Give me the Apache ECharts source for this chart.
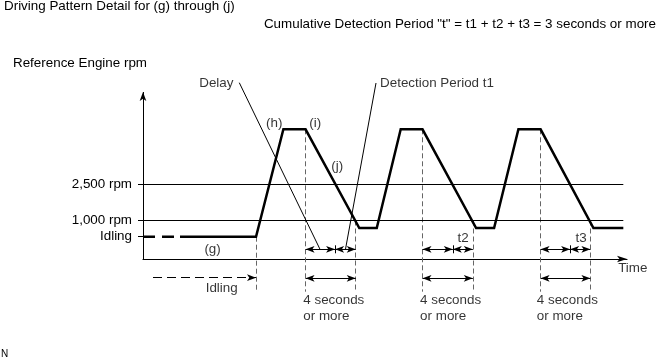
<!DOCTYPE html>
<html>
<head>
<meta charset="utf-8">
<script src="https://cdn.jsdelivr.net/npm/echarts@6/dist/echarts.min.js"></script>
<style>
html,body{margin:0;padding:0;background:#fff;}
#c{width:660px;height:360px;}
</style>
</head>
<body>
<div id="c"></div>
<script>
// ---- data (time in seconds, level in schematic rpm units) ----
const traceTime  = [2.92, 8.92, 11.08, 12.83, 17.07, 18.45, 20.34, 22.06, 26.29, 27.71, 29.63, 31.38, 35.55, 37.91];
const traceLevel = [22.3, 22.3, 129.7, 129.7, 31, 31, 129.7, 129.7, 31, 31, 129.7, 129.7, 31, 31];
const idleLeadTime  = [0, 2.92];
const idleLeadLevel = [22.3, 22.3];

const yTickLevels = [22.3, 38.5, 74.7];
const yTickLabels = ['Idling', '1,000 rpm', '2,500 rpm'];
const refLineLevels = [38.5, 74.7];
const refLineEnd = 37.91;

const idleEndTime = 8.92;
const idleLevel = 22.3;
const peakLevel = 129.7;
const crossLevel = 38.5;
const guideBottom = -32.7;

const windowStart = [12.83, 22.06, 31.38];
const windowSplit = [15.16, 24.45, 33.71];
const windowEnd   = [16.79, 26.03, 35.31];
const shortArrowLevel = 9.7;
const longArrowLevel = -19.3;

const idlingArrowTime  = [0.79, 8.92];
const idlingArrowLevel = -18.7;

const delayLeaderTime  = [7.6, 13.97];
const delayLeaderLevel = [176.3, 9.7];
const detectLeaderTime  = [15.98, 18.39];
const detectLeaderLevel = [9.7, 176];

const noteText  = ['Delay', 'Detection Period t1', '(h)', '(i)', '(j)', '(g)', 't2', 't3', 'Idling',
                   '4 seconds\nor more', '4 seconds\nor more', '4 seconds\nor more', 'Time'];
const noteTime  = [7.14, 18.71, 10.36, 13.6, 15.33, 5.49, 25.26, 34.58, 6.21, 12.65, 21.87, 31.08, 37.5];
const noteLevel = [176, 176, 135.7, 135.7, 93, 9.7, 20.7, 20.7, -29.3, -49, -49, -49, -9];
const noteAlign = ['right', 'left', 'center', 'center', 'center', 'center', 'center', 'center', 'center',
                   'left', 'left', 'left', 'left'];

const axisTop = 167;   // y-axis arrow end
const axisEndTime = 38.2;

// ---- build ----
const FONT = "'Liberation Sans', Arial, Helvetica, sans-serif";
const FS = 13.4;
const chart = echarts.init(document.getElementById('c'), null, {renderer: 'canvas'});

const AR = [5, 9];
function seg(x1, y1, x2, y2, s1, s2) {
  return [
    {coord: [x1, y1], symbol: s1 || 'none', symbolSize: AR},
    {coord: [x2, y2], symbol: s2 || 'none', symbolSize: AR}
  ];
}

const refSegs = refLineLevels.map(v => seg(0, v, refLineEnd, v));
refSegs.push(seg(0, 0, 0, axisTop, 'none', 'arrow'));
refSegs.push(seg(delayLeaderTime[0], delayLeaderLevel[0], delayLeaderTime[1], delayLeaderLevel[1]));
refSegs.push(seg(detectLeaderTime[0], detectLeaderLevel[0], detectLeaderTime[1], detectLeaderLevel[1]));
windowSplit.forEach(t => refSegs.push(seg(t, shortArrowLevel - 4, t, shortArrowLevel + 4)));

const guideSegs = [seg(idleEndTime, idleLevel, idleEndTime, guideBottom)];
windowStart.forEach(t => guideSegs.push(seg(t, peakLevel, t, guideBottom)));
windowEnd.forEach(t => guideSegs.push(seg(t, crossLevel, t, guideBottom)));

const arrowSegs = [];
windowStart.forEach((t, i) => {
  arrowSegs.push(seg(t, shortArrowLevel, windowSplit[i], shortArrowLevel, 'arrow', 'arrow'));
  arrowSegs.push(seg(windowSplit[i], shortArrowLevel, windowEnd[i], shortArrowLevel, 'arrow', 'arrow'));
  arrowSegs.push(seg(t, longArrowLevel, windowEnd[i], longArrowLevel, 'arrow', 'arrow'));
});

const idlingSegs = [seg(idlingArrowTime[0], idlingArrowLevel, idlingArrowTime[1], idlingArrowLevel, 'none', 'arrow')];

function mlSeries(name, data, lineStyle) {
  return {
    name, type: 'line', data: [], clip: false, silent: true,
    markLine: {
      silent: true, animation: false, symbol: ['none', 'none'],
      label: {show: false}, emphasis: {disabled: true},
      lineStyle: Object.assign({color: '#000', width: 1, type: 'solid'}, lineStyle),
      data
    }
  };
}

const textStyle = {fontFamily: FONT, fontSize: FS, color: '#000', fontWeight: 'normal'};

chart.setOption({
  animation: false,
  backgroundColor: '#fff',
  textStyle: {fontFamily: FONT},
  title: [
    {text: 'Driving Pattern Detail for (g) through (j)', left: 4, top: 0, padding: 0, textStyle},
    {text: 'Cumulative Detection Period "t" = t1 + t2 + t3 = 3 seconds or more', right: 4, top: 18, padding: 0, textStyle},
    {text: 'Reference Engine rpm', left: 13, top: 57, padding: 0, textStyle},
    {text: 'N', left: 1, top: 349, padding: 0, textStyle: Object.assign({}, textStyle, {fontSize: 10})}
  ],
  grid: {left: 143, right: 33, top: 79, bottom: 41, containLabel: false},
  xAxis: {
    type: 'value', min: 0, max: axisEndTime,
    axisLine: {show: true, onZero: true, symbol: ['none', 'arrow'], symbolSize: [5, 10],
               lineStyle: {color: '#000', width: 1.2}},
    axisTick: {show: false}, axisLabel: {show: false}, splitLine: {show: false}
  },
  yAxis: {
    type: 'value', min: -60, max: 180,
    axisLine: {show: false},
    axisTick: {show: true, length: 5, inside: false, customValues: yTickLevels,
               lineStyle: {color: '#000', width: 1}},
    axisLabel: {show: true, margin: 11, customValues: yTickLevels,
                formatter: v => { const i = yTickLevels.indexOf(v); return i >= 0 ? yTickLabels[i] : ''; },
                color: '#000', fontSize: FS, fontFamily: FONT},
    splitLine: {show: false}
  },
  series: [
    mlSeries('guides', guideSegs, {color: '#666', width: 1, type: [5, 3]}),
    mlSeries('refs', refSegs, {color: '#000', width: 1}),
    mlSeries('arrows', arrowSegs, {color: '#000', width: 1}),
    mlSeries('idling', idlingSegs, {color: '#000', width: 1, type: [9, 5]}),
    {
      name: 'idleLead', type: 'line', silent: true, symbol: 'none', z: 5,
      data: idleLeadTime.map((t, i) => [t, idleLeadLevel[i]]),
      lineStyle: {color: '#000', width: 2.5, type: [12, 7]}
    },
    {
      name: 'rpm', type: 'line', silent: true, symbol: 'none', z: 5,
      data: traceTime.map((t, i) => [t, traceLevel[i]]),
      lineStyle: {color: '#000', width: 2.5, join: 'miter'}
    },
    {
      name: 'notes', type: 'scatter', silent: true, clip: false, symbolSize: 0, z: 6,
      data: noteText.map((s, i) => ({
        value: [noteTime[i], noteLevel[i]], name: s,
        label: {align: noteAlign[i]}
      })),
      label: {show: true, position: 'inside', formatter: p => p.name, verticalAlign: 'middle',
              fontFamily: FONT, fontSize: FS, color: '#000', lineHeight: 16}
    }
  ]
});
</script>
</body>
</html>
